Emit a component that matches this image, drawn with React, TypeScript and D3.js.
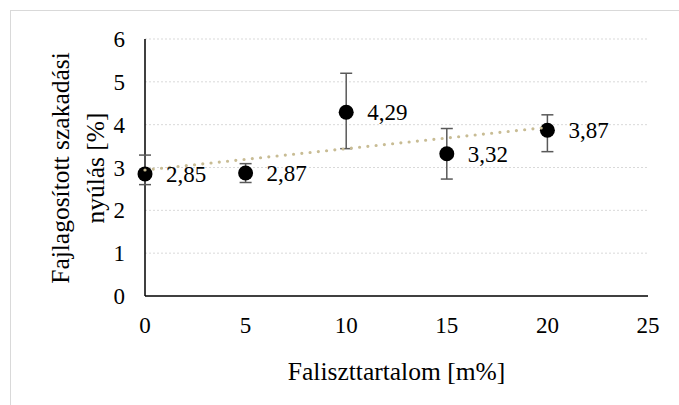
import * as d3 from "d3";
import { useEffect } from "react";

// Falisztartalom vs. fajlagosított szakadási nyúlás
const xValues = [0, 5, 10, 15, 20];
const yValues = [2.85, 2.87, 4.29, 3.32, 3.87];
const errPlus = [0.44, 0.22, 0.91, 0.59, 0.36];
const errMinus = [0.25, 0.22, 0.85, 0.59, 0.5];
const labels = ["2,85", "2,87", "4,29", "3,32", "3,87"];
const xTicks = [0, 5, 10, 15, 20, 25];
const yTicks = [0, 1, 2, 3, 4, 5, 6];

const width = 679;
const height = 405;
const font = "Liberation Serif, Times New Roman, Liberation Sans, Arial, sans-serif";
const fs = 23;
const titleFs = 25.5;

export default function App() {
  useEffect(() => {
    document.body.style.margin = "0";
  }, []);

  const margin = { top: 39, right: 31, bottom: 109, left: 145 };

  const x = d3.scaleLinear()
    .domain([0, 25])
    .range([margin.left, width - margin.right]);

  const y = d3.scaleLinear()
    .domain([0, 6])
    .range([height - margin.bottom, margin.top]);

  // linear trendline (least squares)
  const mx = d3.mean(xValues) as number;
  const my = d3.mean(yValues) as number;
  const sxy = d3.sum(xValues, (v, i) => (v - mx) * (yValues[i] - my));
  const sxx = d3.sum(xValues, (v) => (v - mx) ** 2);
  const slope = sxy / sxx;
  const intercept = my - slope * mx;
  const xMin = d3.min(xValues) as number;
  const xMax = d3.max(xValues) as number;

  const trend = d3.line<number>()
    .x((d) => x(d))
    .y((d) => y(intercept + slope * d));

  const points = xValues.map((v, i) => ({
    x: v,
    y: yValues[i],
    plus: errPlus[i],
    minus: errMinus[i],
    label: labels[i],
  }));

  return (
    <svg width={width} height={height} fontFamily={font} style={{ display: "block" }}>
      <rect x={0} y={0} width={width} height={height} fill="#fff" />
      <rect x={10.5} y={10.5} width={width + 10} height={height + 10} fill="none" stroke="#d9d9d9" strokeWidth={1} />

      {/* gridlines */}
      {yTicks.filter((t) => t > 0).map((t) => (
        <line
          key={t}
          x1={x(0)}
          x2={x(25)}
          y1={y(t)}
          y2={y(t)}
          stroke="#d9d9d9"
          strokeWidth={1}
          strokeDasharray="2 2"
        />
      ))}

      {/* axes */}
      <line x1={x(0)} x2={x(0)} y1={y(0)} y2={y(6)} stroke="#000" strokeWidth={1.5} />
      <line x1={x(0)} x2={x(25)} y1={y(0)} y2={y(0)} stroke="#000" strokeWidth={1.5} />

      {yTicks.map((t) => (
        <text key={t} x={x(0) - 20} y={y(t)} dy="0.35em" textAnchor="end" fontSize={fs} fill="#000">
          {t}
        </text>
      ))}
      {xTicks.map((t) => (
        <text key={t} x={x(t)} y={y(0) + 37} textAnchor="middle" fontSize={fs} fill="#000">
          {t}
        </text>
      ))}

      {/* axis titles */}
      <text x={(x(0) + x(25)) / 2} y={380} textAnchor="middle" fontSize={titleFs} fill="#000">
        Faliszttartalom [m%]
      </text>
      <g transform={`translate(60,168) rotate(-90)`}>
        <text x={0} y={0} dy="0.35em" textAnchor="middle" fontSize={titleFs} fill="#000">
          Fajlagosított szakadási
        </text>
        <text x={0} y={35} dy="0.35em" textAnchor="middle" fontSize={titleFs} fill="#000">
          nyúlás [%]
        </text>
      </g>

      {/* error bars */}
      {points.map((p) => (
        <g key={p.x} stroke="#595959" strokeWidth={1.5}>
          <line x1={x(p.x)} x2={x(p.x)} y1={y(p.y + p.plus)} y2={y(p.y - p.minus)} />
          <line x1={x(p.x) - 6} x2={x(p.x) + 6} y1={y(p.y + p.plus)} y2={y(p.y + p.plus)} />
          <line x1={x(p.x) - 6} x2={x(p.x) + 6} y1={y(p.y - p.minus)} y2={y(p.y - p.minus)} />
        </g>
      ))}

      {/* markers */}
      {points.map((p) => (
        <circle key={p.x} cx={x(p.x)} cy={y(p.y)} r={7.5} fill="#000" />
      ))}

      {/* trendline */}
      <path
        d={trend([xMin, xMax]) || ""}
        fill="none"
        stroke="#c8bc94"
        strokeWidth={3.2}
        strokeLinecap="round"
        strokeDasharray="0 8.3"
      />

      {/* data labels */}
      {points.map((p) => (
        <text key={p.x} x={x(p.x) + 21} y={y(p.y)} dy="0.35em" fontSize={fs} fill="#000">
          {p.label}
        </text>
      ))}
    </svg>
  );
}
